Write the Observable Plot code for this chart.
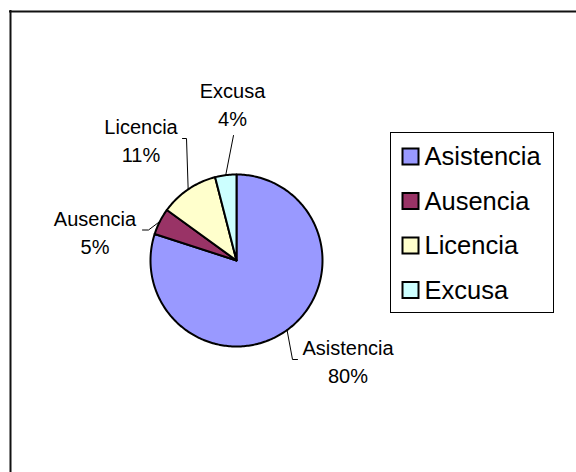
<!DOCTYPE html>
<html><head><meta charset="utf-8">
<script src="https://cdn.jsdelivr.net/npm/d3@7"></script>
<script src="https://cdn.jsdelivr.net/npm/@observablehq/plot@0.6"></script>
<style>body{margin:0;background:#fff}#chart svg{display:block}</style>
</head><body><div id="chart"></div>
<script>
// ---- data ----
const categories = ["Asistencia", "Ausencia", "Licencia", "Excusa"];
const percents = [80, 5, 11, 4];
const colors = ["#9999FF", "#993366", "#FFFFCC", "#CCFFFF"];

// ---- layout (pixels) ----
const W = 576, H = 472;
const CX = 236, CY = 260, R = 86;
const labelX = [347.5, 94.5, 140.5, 232];
const labelY = [360, 231, 138.5, 103];
const leadEnd = [[297, 359], [142, 229.5], [182, 138], [233, 135]];
const leadElbow = [-5, 6, 4, 0];
const LEG = {x1: 390.5, x2: 553.5, y1: 132.5, y2: 312.5, row0: 156.5, step: 44.5, sw: 402.5, sz: 16, tx: 424};
const FONT = "'Liberation Sans', Arial, Helvetica, sans-serif";

// ---- derived ----
const pie = d3.pie().sort(null).value(d => d.v)(categories.map((c, i) => ({c, v: percents[i]})));
const pt = (a, r) => [CX + r * Math.sin(a), CY - r * Math.cos(a)];
const slicePts = [];
pie.forEach(s => {
  slicePts.push({c: s.data.c, x: CX, y: CY});
  const n = Math.max(2, Math.ceil((s.endAngle - s.startAngle) / (Math.PI / 180)));
  for (let k = 0; k <= n; k++) {
    const a = s.startAngle + (s.endAngle - s.startAngle) * k / n;
    const [x, y] = pt(a, R);
    slicePts.push({c: s.data.c, x, y});
  }
});
const leaders = [];
pie.forEach((s, i) => {
  const [ex, ey] = pt((s.startAngle + s.endAngle) / 2, R);
  leaders.push({c: s.data.c, x: ex, y: ey});
  const [lx, ly] = leadEnd[i];
  if (leadElbow[i]) leaders.push({c: s.data.c, x: lx + leadElbow[i], y: ly});
  leaders.push({c: s.data.c, x: lx, y: ly});
});
const labels = categories.map((c, i) => ({c, x: labelX[i], y: labelY[i], t: `${c}\n${percents[i]}%`}));
const legendRows = categories.map((c, i) => ({c, y: LEG.row0 + i * LEG.step}));

const chart = Plot.plot({
  width: W, height: H,
  margin: 0,
  x: {domain: [0, W], range: [0, W], axis: null},
  y: {domain: [0, H], range: [0, H], axis: null},
  color: {domain: categories, range: colors},
  style: {fontFamily: FONT, background: "#fff"},
  marks: [
    Plot.ruleY([11], {x1: 9, x2: W, stroke: "#111", strokeWidth: 2}),
    Plot.ruleX([10], {y1: 10, y2: H, stroke: "#111", strokeWidth: 2}),
    Plot.line(slicePts, {x: "x", y: "y", z: "c", fill: "c", stroke: "#000", strokeWidth: 2, curve: "linear-closed", strokeLinejoin: "round"}),
    Plot.line(leaders, {x: "x", y: "y", z: "c", stroke: "#000", strokeWidth: 1}),
    Plot.text(labels, {x: "x", y: "y", text: "t", fontSize: 20, lineHeight: 1.4, fill: "#000", textAnchor: "middle"}),
    Plot.rect([LEG], {x1: "x1", x2: "x2", y1: "y1", y2: "y2", fill: "#fff", stroke: "#000", strokeWidth: 1}),
    Plot.rect(legendRows, {x1: LEG.sw, x2: LEG.sw + LEG.sz, y1: d => d.y - LEG.sz / 2, y2: d => d.y + LEG.sz / 2, fill: "c", stroke: "#000", strokeWidth: 2}),
    Plot.text(legendRows, {x: LEG.tx, y: "y", text: "c", fontSize: 25.5, textAnchor: "start", fill: "#000"})
  ]
});
document.getElementById("chart").append(chart);
</script>
</body></html>
